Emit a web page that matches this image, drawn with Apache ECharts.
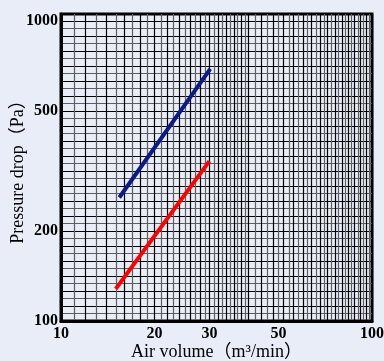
<!DOCTYPE html>
<html>
<head>
<meta charset="utf-8">
<script src="https://cdn.jsdelivr.net/npm/echarts@6/dist/echarts.min.js"></script>
<style>
  html, body { margin: 0; padding: 0; background: #e8edf8; }
  #main { width: 384px; height: 361px; }
</style>
</head>
<body>
<div id="main"></div>
<script>
// data (log-log)
const blueX = [15.4, 30.2];
const blueY = [258, 692];
const redX = [15.0, 30.0];
const redY = [128, 341];

const xLabels = [10, 20, 30, 50, 100];
const yLabels = [100, 200, 500, 1000];

// grid lines of the log paper
const xGrid = [];
for (let v = 10; v <= 40; v += 1) xGrid.push(v);
for (let v = 42; v <= 100; v += 2) xGrid.push(v);
const yGrid = [];
for (let k = 0; k <= 41; k++) yGrid.push(+(100 * Math.pow(10, k / 40)).toFixed(2));

const font = "'Liberation Serif', 'Noto Sans CJK SC', serif";

const myChart = echarts.init(document.getElementById('main'));

const option = {
    backgroundColor: '#e8edf8',
    animation: false,
    grid: {
        left: 61,
        right: 12,
        top: 14,
        bottom: 40,
        containLabel: false,
        outerBoundsMode: 'none',
        show: true,
        borderColor: '#000',
        borderWidth: 3,
        backgroundColor: 'transparent'
    },
    xAxis: {
        type: 'log',
        min: 10,
        max: 100,
        name: 'Air volume（m³/min）',
        nameLocation: 'middle',
        nameMoveOverlap: false,
        nameGap: 22,
        nameTextStyle: { fontFamily: font, fontSize: 18, color: '#000' },
        axisLine: { lineStyle: { color: '#000', width: 3 } },
        axisTick: { show: false, customValues: xGrid },
        axisLabel: {
            customValues: xLabels,
            formatter: (v) => String(v),
            fontFamily: font,
            fontWeight: 'bold',
            fontSize: 16,
            color: '#000',
            margin: 5
        },
        splitLine: {
            show: true,
            lineStyle: { color: ['#000', '#5e5e5e'], width: 1.2 }
        }
    },
    yAxis: {
        type: 'log',
        min: 100,
        max: 1055,
        name: 'Pressure drop（Pa）',
        nameLocation: 'middle',
        nameMoveOverlap: false,
        nameGap: 34,
        nameTextStyle: { fontFamily: font, fontSize: 18, color: '#000' },
        axisLine: { lineStyle: { color: '#000', width: 3 } },
        axisTick: { show: false, customValues: yGrid },
        axisLabel: {
            customValues: yLabels,
            formatter: (v) => String(v),
            fontFamily: font,
            fontWeight: 'bold',
            fontSize: 16,
            color: '#000',
            margin: 3
        },
        splitLine: {
            show: true,
            lineStyle: { color: ['#000', '#5e5e5e'], width: 1.2 }
        }
    },
    series: [{
        type: 'line',
        data: blueX.map((x, i) => [x, blueY[i]]),
        symbol: 'none',
        lineStyle: { color: '#0b1a84', width: 4 }
    }, {
        type: 'line',
        data: redX.map((x, i) => [x, redY[i]]),
        symbol: 'none',
        lineStyle: { color: '#ff0000', width: 4 }
    }]
};
myChart.setOption(option);
</script>
</body>
</html>
